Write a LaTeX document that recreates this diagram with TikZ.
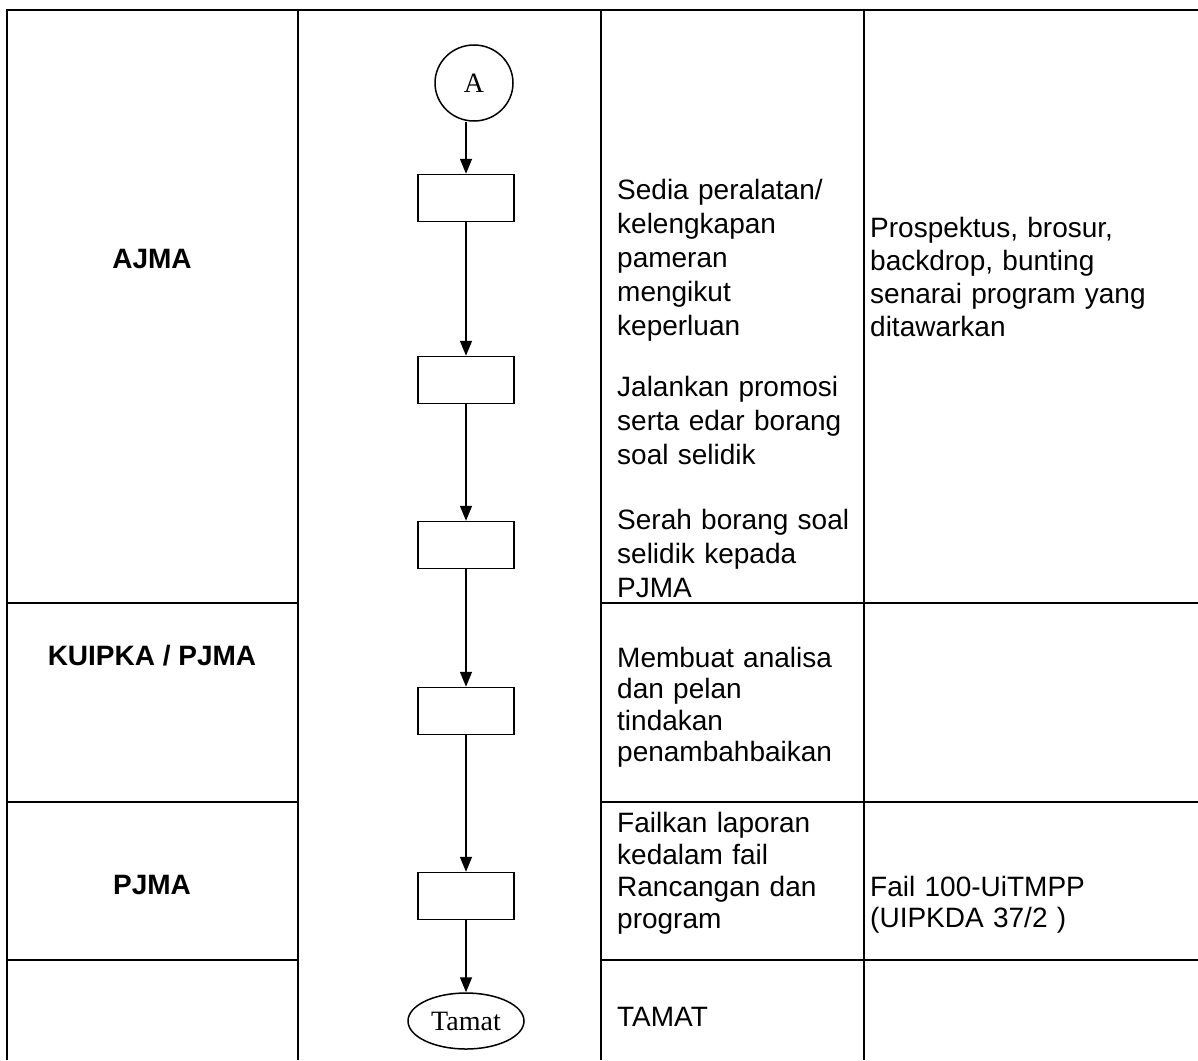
\documentclass[tikz,border=0pt]{standalone}
\usepackage{fontspec}
\setmainfont{Liberation Sans}
\newfontfamily\serifA{Liberation Serif}
\usetikzlibrary{shapes.geometric,arrows.meta}
\begin{document}
\begin{tikzpicture}[x=1pt,y=-1pt,
  grid/.style={line width=1.4pt},
  box/.style={draw,line width=1.5pt,minimum width=96pt,minimum height=47pt,inner sep=0pt},
  arr/.style={line width=1.5pt,-{Triangle[length=15pt,width=12pt]}},
  txt/.style={anchor=base west,text width=330pt,align=left,inner sep=0pt,font=\fontsize{28}{34}\selectfont},
  lbl/.style={anchor=base,inner sep=0pt,font=\fontsize{28}{34}\selectfont\bfseries},
  term/.style={draw,ellipse,line width=1.5pt,inner sep=0pt,font=\serifA\fontsize{28}{34}\selectfont},
]
\useasboundingbox (0,0) rectangle (1198,1060);
% table
\draw[grid] (7,1060) -- (7,10) -- (1198,10);
\draw[grid] (298,10) -- (298,1060);
\draw[grid] (601,10) -- (601,1060);
\draw[grid] (864,10) -- (864,1060);
\foreach \yy in {603,802,960}{
  \draw[grid] (7,\yy) -- (298,\yy);
  \draw[grid] (601,\yy) -- (1198,\yy);
}
% column 1 labels
\node[lbl] (lajma) at (152,268) {AJMA};
\node[lbl] (lkuipka) at (152,665) {KUIPKA / PJMA};
\node[lbl] (lpjma) at (152,894) {PJMA};
% flow
\node[term,minimum width=78pt,minimum height=76pt] (nA) at (474,83) {A};
\node[box] (b1) at (466,198) {};
\node[box] (b2) at (466,380) {};
\node[box] (b3) at (466,545) {};
\node[box] (b4) at (466,711) {};
\node[box] (b5) at (466,896) {};
\node[term,minimum width=116pt,minimum height=56pt] (nT) at (466,1021) {Tamat};
\draw[arr] (nA.south -| b1) -- (b1.north);
\draw[arr] (b1) -- (b2);
\draw[arr] (b2) -- (b3);
\draw[arr] (b3) -- (b4);
\draw[arr] (b4) -- (b5);
\draw[arr] (b5) -- (nT);
% column 3
\node[txt] (t1) at (617,199) {Sedia peralatan/\\kelengkapan\\pameran\\mengikut\\keperluan};
\node[txt] (t2) at (617,396) {Jalankan promosi\\serta edar borang\\soal selidik};
\node[txt] (t3) at (617,529) {Serah borang soal\\selidik kepada\\PJMA};
\node[txt,font=\fontsize{28}{31.5}\selectfont] (t4) at (617,667) {Membuat analisa\\dan pelan\\tindakan\\penambahbaikan};
\node[txt,font=\fontsize{28}{32}\selectfont] (t5) at (617,832) {Failkan laporan\\kedalam fail\\Rancangan dan\\program};
\node[txt] (t6) at (617,1026) {TAMAT};
% column 4
\node[txt,font=\fontsize{28}{33}\selectfont] (r1) at (870,237) {Prospektus, brosur,\\backdrop, bunting\\senarai program yang\\ditawarkan};
\node[txt,font=\fontsize{28}{31}\selectfont] (r2) at (870,896) {Fail 100-UiTMPP\\(UIPKDA 37/2 )};
\end{tikzpicture}
\end{document}
